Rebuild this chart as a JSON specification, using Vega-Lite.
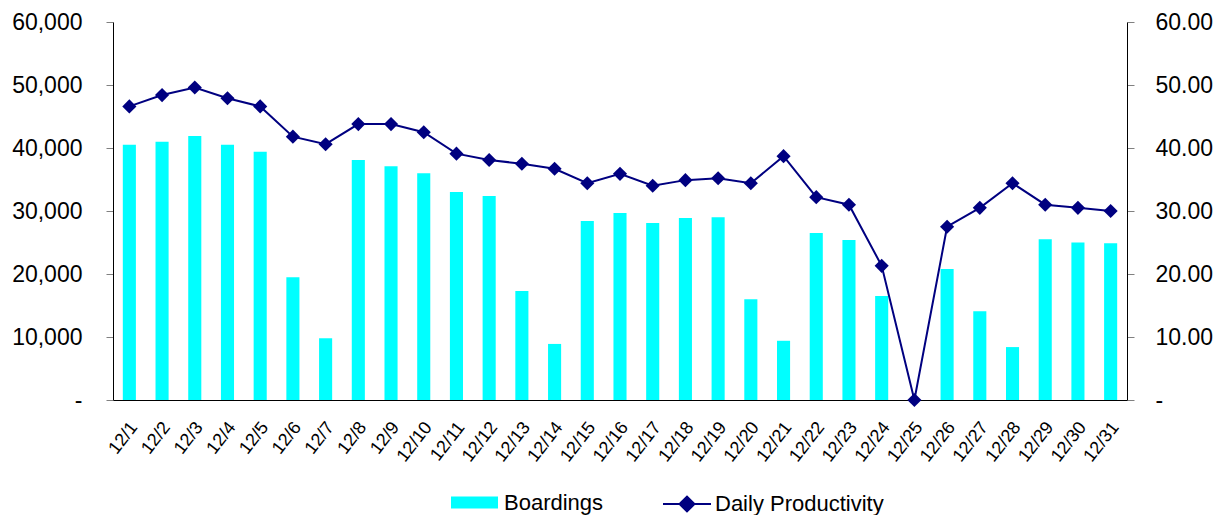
{
  "$schema": "https://vega.github.io/schema/vega-lite/v6.json",
  "width": 1014,
  "height": 378,
  "autosize": {"type": "none"},
  "padding": {"left": 113, "top": 22, "right": 95, "bottom": 115},
  "background": "white",
  "config": {
    "view": {"stroke": null},
    "font": "Liberation Sans",
    "axis": {"grid": false, "domainColor": "#000000", "tickColor": "#808080", "labelColor": "#000000", "labelFont": "Liberation Sans"}
  },
  "data": {"values": [
    {"date": "12/1", "boardings": 40500, "productivity": 46.6},
    {"date": "12/2", "boardings": 41000, "productivity": 48.4},
    {"date": "12/3", "boardings": 41900, "productivity": 49.6},
    {"date": "12/4", "boardings": 40500, "productivity": 47.9},
    {"date": "12/5", "boardings": 39400, "productivity": 46.6},
    {"date": "12/6", "boardings": 19500, "productivity": 41.8},
    {"date": "12/7", "boardings": 9800, "productivity": 40.6},
    {"date": "12/8", "boardings": 38100, "productivity": 43.8},
    {"date": "12/9", "boardings": 37100, "productivity": 43.8},
    {"date": "12/10", "boardings": 36000, "productivity": 42.5},
    {"date": "12/11", "boardings": 33000, "productivity": 39.1},
    {"date": "12/12", "boardings": 32400, "productivity": 38.1},
    {"date": "12/13", "boardings": 17300, "productivity": 37.5},
    {"date": "12/14", "boardings": 8900, "productivity": 36.7},
    {"date": "12/15", "boardings": 28400, "productivity": 34.4},
    {"date": "12/16", "boardings": 29700, "productivity": 35.9},
    {"date": "12/17", "boardings": 28100, "productivity": 34.0},
    {"date": "12/18", "boardings": 28900, "productivity": 34.9},
    {"date": "12/19", "boardings": 29000, "productivity": 35.2},
    {"date": "12/20", "boardings": 16000, "productivity": 34.4},
    {"date": "12/21", "boardings": 9400, "productivity": 38.7},
    {"date": "12/22", "boardings": 26500, "productivity": 32.2},
    {"date": "12/23", "boardings": 25400, "productivity": 31.0},
    {"date": "12/24", "boardings": 16500, "productivity": 21.3},
    {"date": "12/25", "boardings": 0, "productivity": 0},
    {"date": "12/26", "boardings": 20800, "productivity": 27.5},
    {"date": "12/27", "boardings": 14100, "productivity": 30.5},
    {"date": "12/28", "boardings": 8400, "productivity": 34.4},
    {"date": "12/29", "boardings": 25500, "productivity": 31.0},
    {"date": "12/30", "boardings": 25000, "productivity": 30.5},
    {"date": "12/31", "boardings": 24900, "productivity": 30.0}
  ]},
  "encoding": {
    "x": {
      "field": "date", "type": "nominal", "sort": null,
      "scale": {"paddingInner": 0.6, "paddingOuter": 0.3},
      "axis": {"title": null, "labelAngle": -52, "labelFontSize": 18, "ticks": false, "labelPadding": 24, "labelOffset": 5, "domainColor": "#000000"}
    }
  },
  "layer": [
    {
      "mark": {"type": "bar", "color": "#00FFFF"},
      "encoding": {
        "y": {
          "field": "boardings", "type": "quantitative",
          "scale": {"domain": [0, 60000], "nice": false},
          "axis": {"orient": "left", "title": null, "values": [0, 10000, 20000, 30000, 40000, 50000, 60000],
                   "labelExpr": "datum.value == 0 ? '-' : format(datum.value, ',')",
                   "labelFontSize": 23, "tickSize": 7, "labelPadding": 24}
        },
        "color": {
          "datum": "Boardings", "type": "nominal",
          "scale": {"range": ["#00FFFF"]},
          "legend": {"orient": "none", "legendX": 338, "legendY": 457, "title": null,
                     "symbolType": "M-1,-0.255H1V0.255H-1Z", "symbolSize": 2209, "symbolStrokeWidth": 0,
                     "labelFontSize": 22, "labelOffset": 6, "labelLimit": 0, "labelFont": "Liberation Sans", "labelColor": "#000000"}
        }
      }
    },
    {
      "encoding": {
        "y": {
          "field": "productivity", "type": "quantitative",
          "scale": {"domain": [0, 60], "nice": false},
          "axis": {"orient": "right", "title": null, "values": [0, 10, 20, 30, 40, 50, 60],
                   "labelExpr": "datum.value == 0 ? '-' : format(datum.value, ',.2f')",
                   "labelFontSize": 23, "tickSize": 7, "labelPadding": 21}
        }
      },
      "layer": [
        {
          "mark": {"type": "line", "strokeWidth": 2},
          "encoding": {
            "stroke": {
              "datum": "Daily Productivity", "type": "nominal",
              "scale": {"range": ["#000080"]},
              "legend": {"orient": "none", "legendX": 549, "legendY": 457, "title": null,
                         "symbolType": "M-1,0H1M-0.31,0L0,-0.31L0.31,0L0,0.31Z", "symbolSize": 2304, "symbolStrokeWidth": 2,
                         "labelFontSize": 22, "labelOffset": 3, "labelLimit": 0, "labelFont": "Liberation Sans", "labelColor": "#000000",
                         "encode": {"symbols": {"update": {"fill": {"value": "#000080"}, "stroke": {"value": "#000080"}}}}}
            }
          }
        },
        {
          "mark": {"type": "point", "shape": "diamond", "filled": true, "size": 200, "color": "#000080", "opacity": 1},
          "encoding": {}
        }
      ]
    }
  ],
  "resolve": {"scale": {"y": "independent"}}
}
